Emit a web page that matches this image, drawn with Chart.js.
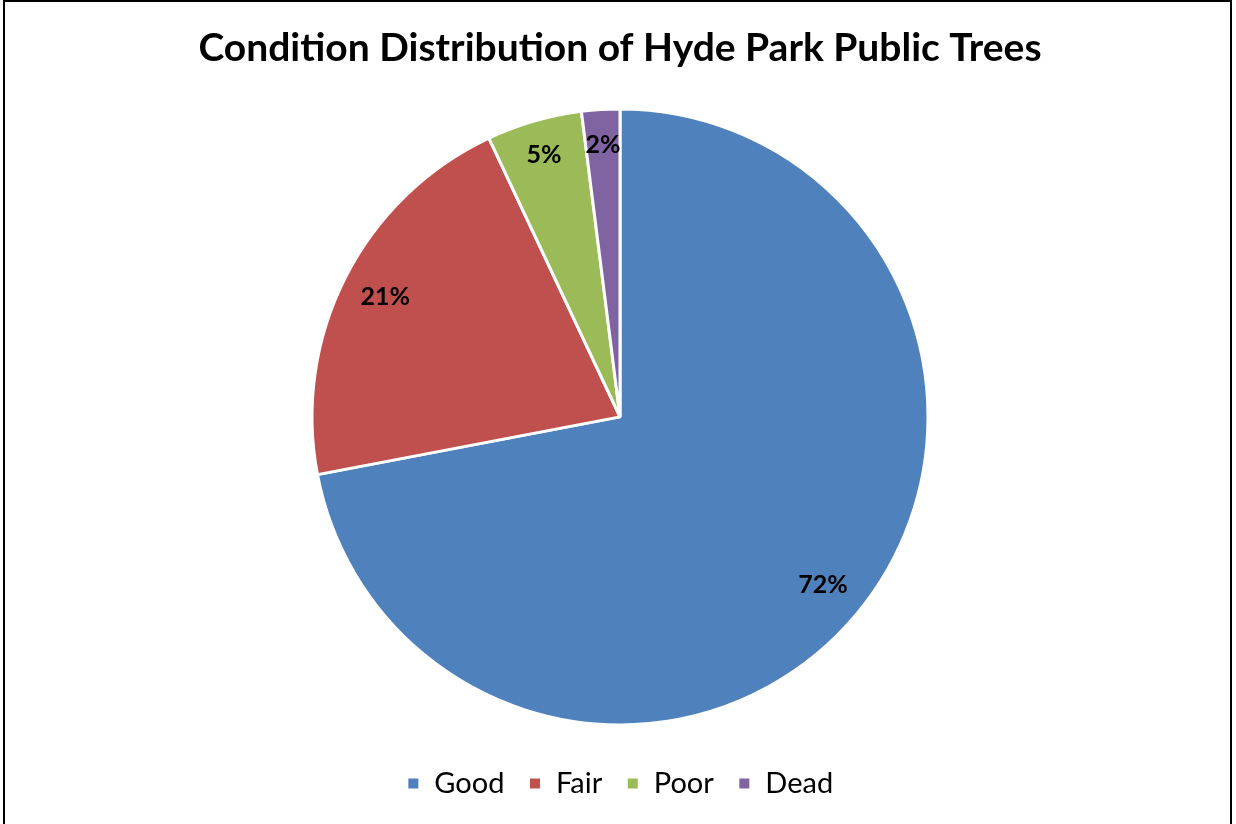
<!DOCTYPE html>
<html>
<head>
<meta charset="utf-8">
<script src="https://cdn.jsdelivr.net/npm/chart.js@4"></script>
<style>
  html, body { margin: 0; padding: 0; background: #fff; }
  #frame { position: absolute; left: 3px; top: 0; width: 1229px; height: 830px;
           border-left: 2px solid #000; border-top: 2px solid #000; border-right: 2px solid #000; box-sizing: border-box; }
  #wrap { position: absolute; left: 0; top: 0; width: 1236px; height: 824px; }
</style>
</head>
<body>
<div id="frame"></div>
<div id="wrap"><canvas id="c" width="1236" height="824"></canvas></div>
<script>
const titleText = 'Condition Distribution of Hyde Park Public Trees';
const categories = ['Good', 'Fair', 'Poor', 'Dead'];
const values = [72, 21, 5, 2];
const colors = ['#4F81BD', '#C0504D', '#9BBB59', '#8064A2'];

const labelPlugin = {
  id: 'sliceLabels',
  afterDatasetsDraw(chart) {
    const ctx = chart.ctx;
    const meta = chart.getDatasetMeta(0);
    const total = values.reduce((a, b) => a + b, 0);
    ctx.save();
    ctx.font = 'bold 25px Lato, "Open Sans", sans-serif';
    ctx.fillStyle = '#000';
    ctx.textAlign = 'center';
    ctx.textBaseline = 'middle';
    meta.data.forEach((arc, i) => {
      const p = arc.getProps(['x', 'y', 'startAngle', 'endAngle', 'outerRadius'], true);
      const mid = (p.startAngle + p.endAngle) / 2;
      const pct = values[i] / total;
      const f = pct < 0.1 ? 0.885 : 0.855;
      const r = p.outerRadius * f;
      ctx.fillText(Math.round(pct * 100) + '%', p.x + Math.cos(mid) * r, p.y + Math.sin(mid) * r);
    });
    ctx.restore();
  }
};

new Chart(document.getElementById('c'), {
  type: 'pie',
  data: {
    labels: categories,
    datasets: [{
      data: values,
      backgroundColor: colors,
      borderColor: '#ffffff',
      borderWidth: 3,
      radius: 308
    }]
  },
  options: {
    responsive: false,
    animation: false,
    layout: { padding: { left: 4, right: 0, top: 0, bottom: 16 } },
    plugins: {
      title: {
        display: true,
        text: titleText,
        color: '#000',
        font: { family: 'Lato, "Open Sans", sans-serif', size: 39, weight: 'bold' },
        padding: { top: 25, bottom: 17 }
      },
      legend: {
        position: 'bottom',
        labels: {
          color: '#000',
          font: { family: 'Lato, "Open Sans", sans-serif', size: 29 },
          boxWidth: 13,
          boxHeight: 13,
          padding: 24
        }
      },
      tooltip: { enabled: false }
    }
  },
  plugins: [labelPlugin]
});
</script>
</body>
</html>
